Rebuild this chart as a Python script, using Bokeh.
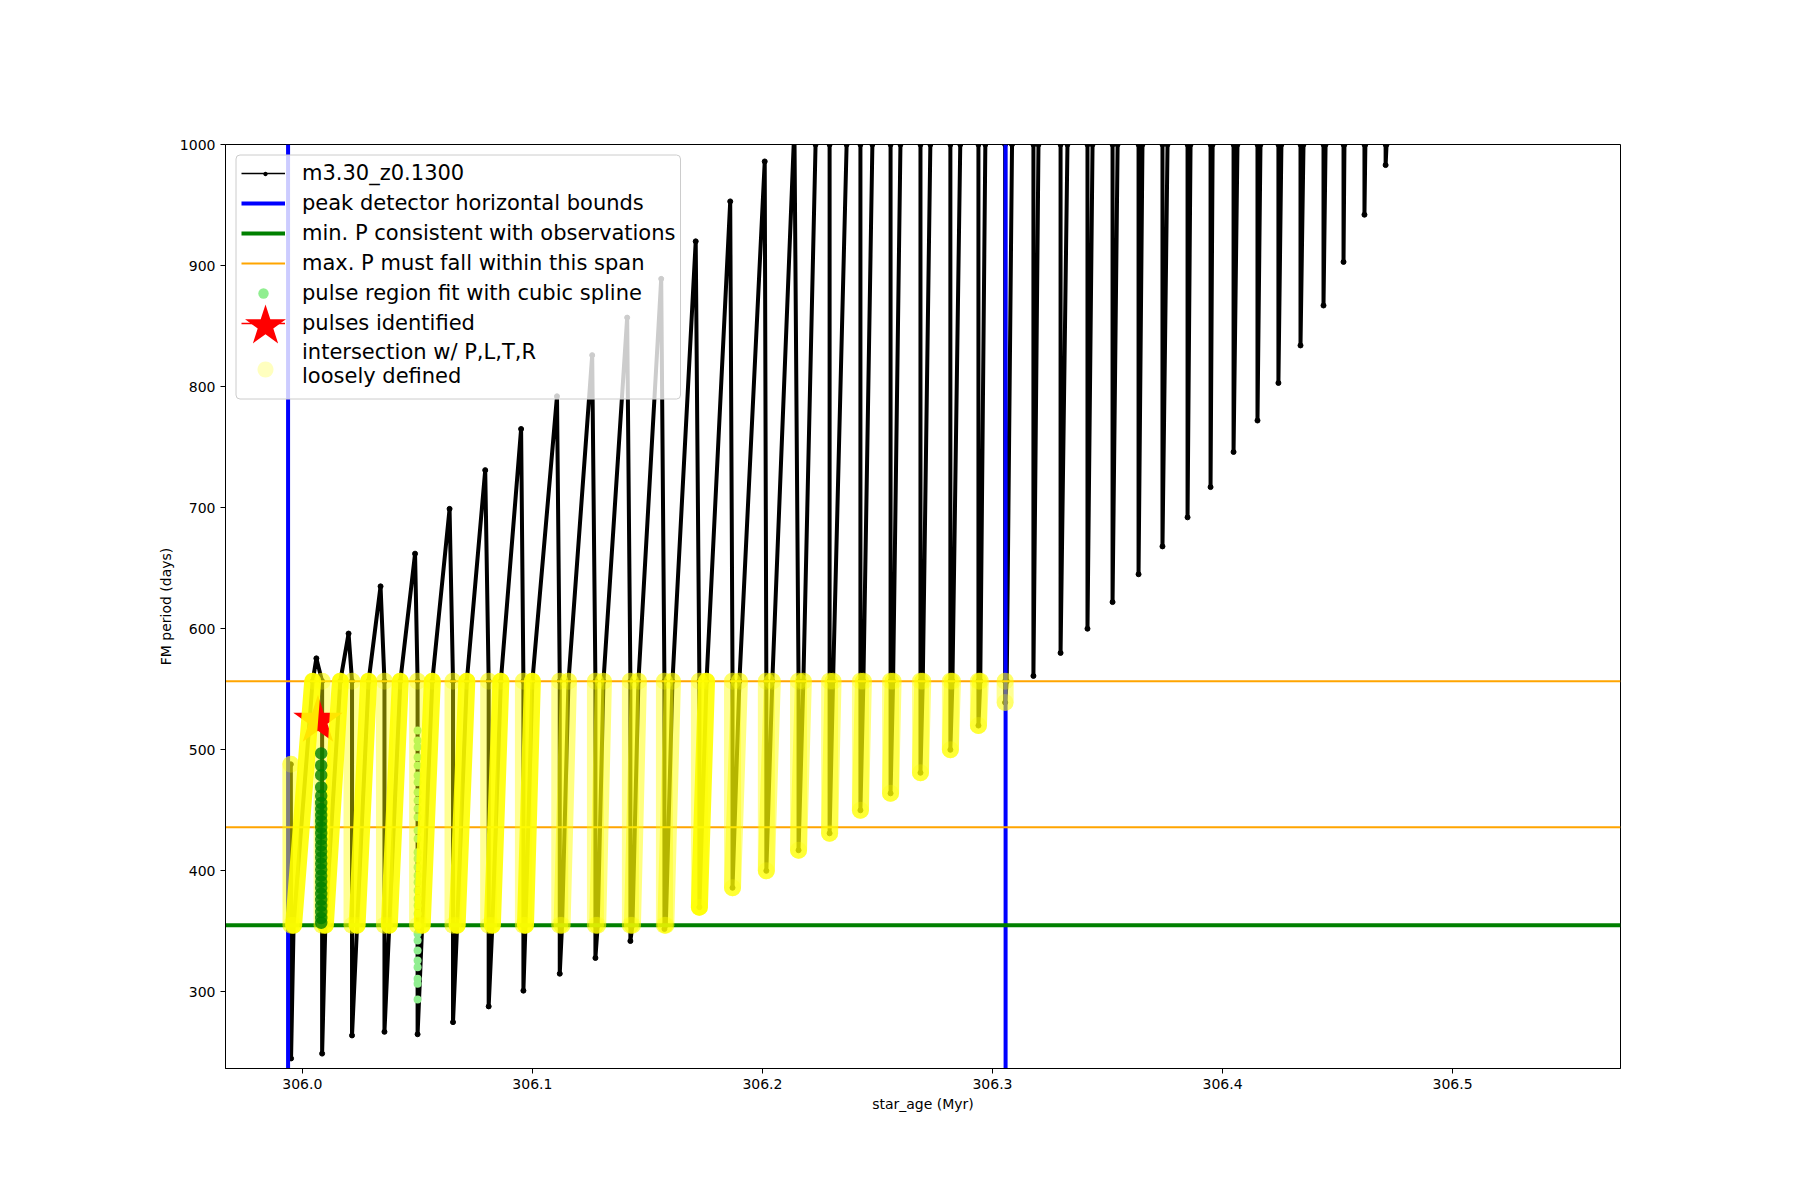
import math
from bokeh.plotting import figure
from bokeh.models import (Range1d, FixedTicker, PrintfTickFormatter, Legend,
                          LegendItem, ColumnDataSource, PolyAnnotation, BoxAnnotation)
from bokeh.embed import file_html
from bokeh.resources import INLINE

# ------------------------------------------------------------------ data
model_name = "m3.30_z0.1300"

# age range of the axes (Myr) and period range (days)
x_lim = [305.9666, 306.5730]
y_lim = [236.7, 1000.0]
x_ticks = [306.0, 306.1, 306.2, 306.3, 306.4, 306.5]
y_ticks = [300, 400, 500, 600, 700, 800, 900, 1000]

# reference lines
peak_bounds = [305.9938, 306.3057]      # blue vertical lines
min_P_obs = 355.1                       # green horizontal line
max_P_span = [436.0, 556.7]             # orange horizontal lines

# first point of the track
start_age = 305.9950
start_P = 488.0

# ages of the steep period drops (thermal pulses) and the minimum period after each
drop_age = [305.9951, 306.0086, 306.0216, 306.0357, 306.0501, 306.0655, 306.0810,
            306.0961, 306.1119, 306.1274, 306.1426, 306.1574, 306.1726, 306.1870,
            306.2017, 306.2157, 306.2292, 306.2426, 306.2557, 306.2687, 306.2817,
            306.2939, 306.3055, 306.3178, 306.3296, 306.3413, 306.3522, 306.3635,
            306.3739, 306.3848, 306.3948, 306.4048, 306.4152, 306.4243, 306.4339,
            306.4439, 306.4526, 306.4617, 306.4709]
drop_min = [245, 249, 264, 267, 265, 275, 288, 301, 315, 328, 342, 352, 370, 386,
            400, 417, 431, 450, 464, 481, 500, 520, 539, 561, 580, 600, 622, 645,
            668, 692, 717, 746, 772, 803, 834, 867, 903, 942, 983]

# visible maxima just before drops 1..15
peak_age = [306.0061, 306.0201, 306.0340, 306.0490, 306.0640, 306.0795, 306.0951,
            306.1107, 306.1260, 306.1412, 306.1560, 306.1710, 306.1860, 306.2010,
            306.2139]
peak_P = [575.5, 596, 635, 662, 699, 731, 765, 792, 826, 857, 889, 920, 953, 986,
          1015]

# age where the recovering period crosses the green line (drops 0..11)
rise_lo_age = [305.9962, 306.0100, 306.0238, 306.0378, 306.0521, 306.0673, 306.0826,
               306.0970, 306.1129, 306.1284, 306.1435, 306.1580]
# age where the recovering period crosses the upper orange line (drops 0..22)
rise_hi_age = [306.0045, 306.0165, 306.0288, 306.0426, 306.0565, 306.0715, 306.0863,
               306.1000, 306.1157, 306.1309, 306.1461, 306.1609, 306.1757, 306.1900,
               306.2043, 306.2178, 306.2307, 306.2439, 306.2568, 306.2697, 306.2826,
               306.2947, 306.3062]
# age where the recovering period leaves the top of the plot (drops 15..38)
top_age = [306.2231, 306.2366, 306.2478, 306.2600, 306.2730, 306.2860, 306.2969,
           306.3085, 306.3200, 306.3326, 306.3435, 306.3544, 306.3652, 306.3761,
           306.3861, 306.3957, 306.4065, 306.4165, 306.4256, 306.4352, 306.4448,
           306.4530, 306.4621, 306.4713]

# pulse region fit with cubic spline (light green)
spline_age = 306.0501
spline_P = [515.9, 507.7, 502.2, 493.9, 487.0, 478.8, 473.2, 465.0, 458.1, 451.2,
            444.3, 433.3, 426.5, 415.4, 410.0, 403.0, 396.2, 390.6, 383.8, 376.9,
            371.4, 364.5, 354.9, 348.0, 342.5, 334.2, 326.0, 320.4, 310.8, 306.7,
            293.7]

# selected pulse points (dark green)
sel_age = 306.0082
sel_P = [497, 487, 479, 469, 462, 456, 451, 446, 441, 436, 431, 426, 421, 416, 411,
         406, 401, 396, 391, 386, 381, 376, 371, 366, 361, 357]

# pulses identified (red star)
pulse_age = [306.0068]
pulse_P = [524.0]

# ------------------------------------------------------------------ track
BAND_LO = min_P_obs
BAND_HI = max_P_span[1]
Y_TOP = y_lim[1]
nan = float("nan")

xs, ys = [start_age], [start_P]
npk = len(peak_age)
for k in range(len(drop_age)):
    d, m = drop_age[k], drop_min[k]
    if k > 0:
        if k - 1 < npk:
            xs.append(peak_age[k - 1]); ys.append(peak_P[k - 1])
        else:
            xs.append(d); ys.append(Y_TOP)
        if ys[-1] > BAND_HI and m < BAND_HI:
            xs.append(d); ys.append(BAND_HI)
    if m < BAND_LO:
        xs.append(d); ys.append(BAND_LO)
    xs.append(d); ys.append(m)
    if m < BAND_LO:
        xs.append(rise_lo_age[k]); ys.append(BAND_LO)
    if m < BAND_HI:
        xs.append(rise_hi_age[k]); ys.append(BAND_HI)
    if k >= npk:
        xs.append(top_age[k - npk]); ys.append(Y_TOP)
        xs.append(nan); ys.append(nan)

# intersection of the track with the period window (yellow)
yel_v = dict(x0=[], y0=[], x1=[], y1=[])            # along the drops
yel_s = dict(x0=[], y0=[], x1=[], y1=[], a=[])      # along the recoveries
yx, yy = [], []
for i in range(len(xs) - 1):
    x0, y0, x1, y1 = xs[i], ys[i], xs[i + 1], ys[i + 1]
    if any(math.isnan(v) for v in (x0, y0, x1, y1)):
        continue
    inside = all(BAND_LO - 0.01 <= v <= BAND_HI + 0.01 for v in (y0, y1))
    if inside and max(x0, x1) <= peak_bounds[1]:
        dx = abs(x1 - x0)
        tgt = yel_v if dx == 0 else yel_s
        tgt["x0"].append(x0); tgt["y0"].append(y0)
        tgt["x1"].append(x1); tgt["y1"].append(y1)
        if dx:
            tgt["a"].append(0.9 if dx > 0.003 else 0.5)
for x, y in zip(xs, ys):
    if not math.isnan(y) and BAND_LO - 0.01 <= y <= BAND_HI + 0.01 and x <= peak_bounds[1]:
        yx.append(x); yy.append(y)

# ------------------------------------------------------------------ figure
FONT = "DejaVu Sans"
p = figure(frame_width=1395, frame_height=924,
           min_border_left=225, min_border_right=172,
           min_border_top=144, min_border_bottom=124,
           x_range=Range1d(*x_lim), y_range=Range1d(*y_lim),
           output_backend="svg", toolbar_location=None)
p.background_fill_color = "white"
p.border_fill_color = "white"
p.outline_line_color = "black"
p.outline_line_width = 1
p.grid.visible = False

for ax in (p.xaxis, p.yaxis):
    ax.axis_line_color = "black"
    ax.major_tick_line_color = "black"
    ax.major_tick_out = 5
    ax.major_tick_in = 0
    ax.minor_tick_line_color = None
    ax.major_label_text_font = FONT
    ax.major_label_text_font_size = "14px"
    ax.major_label_text_color = "black"
    ax.axis_label_text_font = FONT
    ax.axis_label_text_font_size = "14px"
    ax.axis_label_text_font_style = "normal"
    ax.axis_label_text_color = "black"
p.xaxis.ticker = FixedTicker(ticks=x_ticks)
p.xaxis.formatter = PrintfTickFormatter(format="%.1f")
p.yaxis.ticker = FixedTicker(ticks=y_ticks)
p.xaxis.axis_label = "star_age (Myr)"
p.yaxis.axis_label = "FM period (days)"
p.xaxis.axis_label_standoff = 4
p.yaxis.axis_label_standoff = 3

src = ColumnDataSource(dict(x=xs, y=ys))
p.line("x", "y", source=src, color="black", line_width=4, line_join="round")
trk = p.line("x", "y", source=src, color="black", line_width=1.5)
p.scatter("x", "y", source=src, size=5, color="black")

blue = p.segment(x0=peak_bounds, x1=peak_bounds, y0=[y_lim[0]] * 2, y1=[y_lim[1]] * 2,
                 line_color="blue", line_width=4)
green = p.segment(x0=[x_lim[0]], x1=[x_lim[1]], y0=[min_P_obs], y1=[min_P_obs],
                  line_color="green", line_width=4)
orange = p.segment(x0=[x_lim[0]] * 2, x1=[x_lim[1]] * 2, y0=max_P_span, y1=max_P_span,
                   line_color="orange", line_width=2)

lg = p.scatter(x=[spline_age] * len(spline_P), y=spline_P, size=8,
               fill_color="lightgreen", line_color=None)

p.segment("x0", "y0", "x1", "y1", source=ColumnDataSource(yel_v), line_color="yellow",
          line_width=17, line_alpha=0.42, line_cap="round")

red_line = p.line(x=pulse_age, y=pulse_P, color="red", line_width=1.5)
p.scatter(x=pulse_age, y=pulse_P, marker="star", size=52,
          fill_color="red", line_color=None)

p.segment("x0", "y0", "x1", "y1", source=ColumnDataSource(yel_s), line_color="yellow",
          line_width=17, line_alpha="a", line_cap="round")
p.scatter(x=yx, y=yy, size=17, fill_color="yellow", fill_alpha=0.28, line_color=None)

p.scatter(x=[sel_age] * len(sel_P), y=sel_P, size=12.5, fill_color="green",
          fill_alpha=0.8, line_color=None)

# legend frame (semi-transparent white box), drawn below the legend entries
p.add_layout(BoxAnnotation(left=235.5, right=680, top=154.5, bottom=398.5,
                           left_units="canvas", right_units="canvas",
                           top_units="canvas", bottom_units="canvas",
                           fill_color="white", fill_alpha=0.8,
                           line_color="#cccccc", line_width=1, line_alpha=1.0,
                           border_radius=4))


# legend symbols drawn at their true size
def ring(cx, cy, r, n=32):
    return ([cx + r * math.cos(2 * math.pi * i / n) for i in range(n)],
            [cy + r * math.sin(2 * math.pi * i / n) for i in range(n)])


cx, cy, R = 265.0, 325.5, 21.5
star_x, star_y = [], []
for i in range(10):
    r = R if i % 2 == 0 else R * 0.382
    ang = math.pi / 2 - i * math.pi / 5
    star_x.append(cx + r * math.cos(ang)); star_y.append(cy - r * math.sin(ang))
p.add_layout(PolyAnnotation(xs=star_x, ys=star_y, xs_units="canvas", ys_units="canvas",
                            fill_color="red", fill_alpha=1.0, line_color=None))
cxs, cys = ring(265.0, 369.0, 8.0)
p.add_layout(PolyAnnotation(xs=cxs, ys=cys, xs_units="canvas", ys_units="canvas",
                            fill_color="yellow", fill_alpha=0.25, line_color=None))
dxs, dys = ring(265.0, 173.5, 2.2, 16)
p.add_layout(PolyAnnotation(xs=dxs, ys=dys, xs_units="canvas", ys_units="canvas",
                            fill_color="black", fill_alpha=1.0, line_color=None))

legend = Legend(items=[
    LegendItem(label=model_name, renderers=[trk]),
    LegendItem(label="peak detector horizontal bounds", renderers=[blue]),
    LegendItem(label="min. P consistent with observations", renderers=[green]),
    LegendItem(label="max. P must fall within this span", renderers=[orange]),
    LegendItem(label="pulse region fit with cubic spline", renderers=[lg]),
    LegendItem(label="pulses identified", renderers=[red_line]),
    LegendItem(label="intersection w/ P,L,T,R\nloosely defined", renderers=[]),
], location="top_left", margin=10)
legend.label_text_font = FONT
legend.label_text_font_size = "21px"
legend.label_text_color = "black"
legend.border_line_color = "#cccccc"
legend.border_line_alpha = 0.0
legend.background_fill_color = "white"
legend.background_fill_alpha = 0.0
legend.glyph_width = 44
legend.glyph_height = 26
legend.label_height = 26
legend.label_standoff = 17
legend.spacing = 4
legend.padding = 6
p.add_layout(legend)

open("out.html", "w").write(file_html(p, INLINE))
